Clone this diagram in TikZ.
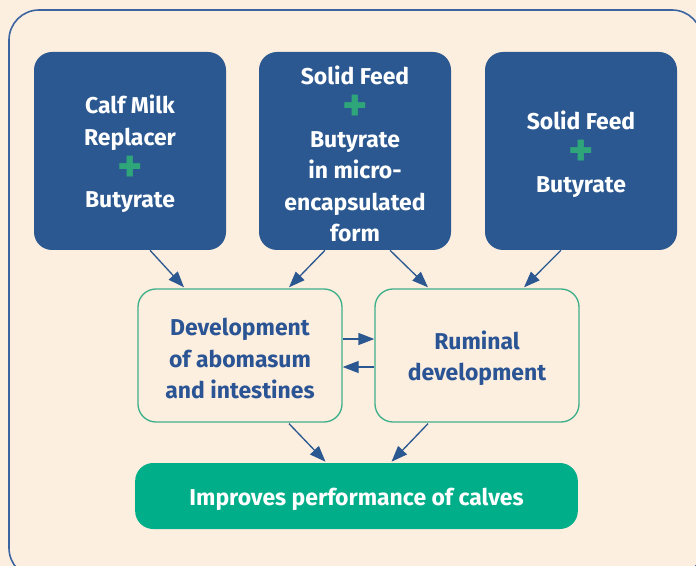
\documentclass[tikz,border=0pt]{standalone}
\usepackage{fontspec}
\setmainfont{Fira Sans}
\usetikzlibrary{arrows.meta,calc}
\definecolor{bgc}{HTML}{FDEFE0}
\definecolor{frameblue}{HTML}{3C64A0}
\definecolor{boxblue}{HTML}{2B5890}
\definecolor{textblue}{HTML}{2A5494}
\definecolor{edgegreen}{HTML}{3DB08A}
\definecolor{fillgreen}{HTML}{00AE89}
\definecolor{plusgreen}{HTML}{2FA67A}
\newcommand{\plusmark}{\smash{\raisebox{-4.5pt}{\fontsize{36}{36}\selectfont\color{plusgreen}+}}}
\tikzset{
  boxfont/.style={font=\fontsize{17.2}{23.6}\selectfont\bfseries, align=center, inner sep=0pt},
  topbox/.style={fill=boxblue, rounded corners=13.5pt, minimum width=144pt, minimum height=148.5pt, inner sep=0pt},
  toptext/.style={boxfont, text=white, yshift=-2.25pt},
  midbox/.style={draw=edgegreen, line width=1pt, fill=bgc, rounded corners=13.5pt, minimum width=153pt, minimum height=99.75pt, inner sep=0pt},
  midtext/.style={boxfont, text=textblue, yshift=-2.25pt},
  resbox/.style={fill=fillgreen, rounded corners=13.5pt, minimum width=332pt, minimum height=49.5pt, inner sep=0pt},
  flow/.style={draw=boxblue, line width=1pt, -{Triangle[length=12pt,width=9pt]}}
}
\begin{document}
\begin{tikzpicture}[x=0.75pt,y=-0.75pt]
\useasboundingbox (0,0) rectangle (696,566);
\fill[bgc] (0,0) rectangle (696,566);
\draw[frameblue, line width=1.2pt, rounded corners=22.5pt] (9,10) rectangle (702,578);

\node[topbox, label={[toptext]center:{Calf Milk\\Replacer\\\plusmark\\Butyrate}}] (b1) at (130,151) {};
\node[topbox, label={[toptext]center:{Solid Feed\\\plusmark\\Butyrate\\in micro-\\encapsulated\\form}}] (b2) at (355,151) {};
\node[topbox, label={[toptext]center:{Solid Feed\\\plusmark\\Butyrate}}] (b3) at (581,151) {};

\node[midbox, label={[midtext]center:{Development\\of abomasum\\and intestines}}] (m1) at (240,355.5) {};
\node[midbox, label={[midtext]center:{Ruminal\\development}}] (m2) at (477,355.5) {};

\node[resbox, label={[toptext]center:{Improves performance of calves}}] (r) at (356.5,496) {};

\draw[flow] ($(b1.south)+(20,0)$) -- ($(m1.north)+(-56,-1)$);
\draw[flow] ($(b2.south)+(-30,0)$) -- ($(m1.north)+(49,-1)$);
\draw[flow] ($(b2.south)+(35,0)$) -- ($(m2.north)+(-49,-1)$);
\draw[flow] ($(b3.south)+(-20,0)$) -- ($(m2.north)+(47,-1)$);
\draw[flow] ($(m1.east)+(0,-16.5)$) -- ($(m2.west)+(0,-16.5)$);
\draw[flow] ($(m2.west)+(0,11.5)$) -- ($(m1.east)+(0,11.5)$);
\draw[flow] ($(m1.south)+(49,1)$) -- ($(r.north)+(-31,-1)$);
\draw[flow] ($(m2.south)+(-49,1)$) -- ($(r.north)+(35,-1)$);
\end{tikzpicture}
\end{document}
